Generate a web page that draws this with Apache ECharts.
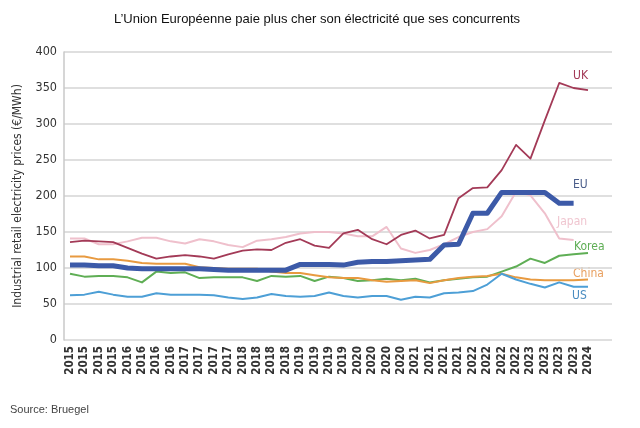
<!DOCTYPE html>
<html><head><meta charset="utf-8">
<script src="https://cdn.jsdelivr.net/npm/echarts@6/dist/echarts.min.js"></script>
<style>html,body{margin:0;padding:0;background:#fff}#c{width:640px;height:428px}</style>
</head><body><div id="c"></div>
<script>
const categories = ['2015','2015','2015','2015','2016','2016','2016','2016','2017','2017','2017','2017','2018','2018','2018','2018','2019','2019','2019','2019','2020','2020','2020','2020','2021','2021','2021','2021','2022','2022','2022','2022','2023','2023','2023','2023','2024'];
const yTicks = [0,50,100,150,200,250,300,350,400];
const UK = [136,138,137,136,128,120,113,116,118,116,113,119,124,126,125,135,140,131,128,148,153,140,133,146,152,141,146,197,211,212,236,271,252,305,357,350,347];
const EU = [104,104,103,103,100,99,99,99,99,99,98,97,97,97,97,97,105,105,105,104,108,109,109,110,111,112,132,133,176,176,205,205,205,205,190,190,null];
const Japan = [141,141,133,133,137,142,142,137,134,140,137,132,129,138,140,143,148,150,150,148,144,144,157,127,121,125,133,143,150,154,172,206,201,176,141,139,null];
const Korea = [92,88,89,89,87,80,95,93,94,86,87,87,87,82,89,88,89,82,88,86,82,83,85,83,85,80,83,85,87,88,95,102,113,107,117,119,121];
const China = [116,116,112,112,110,107,106,106,106,101,100,99,99,99,95,93,93,90,87,86,86,83,81,82,83,79,83,86,88,89,92,87,84,83,83,83,84];
const US = [62,63,67,63,60,60,65,63,63,63,62,59,57,59,64,61,60,61,66,61,59,61,61,56,60,59,65,66,68,77,92,84,78,73,80,74,74];

const chart = echarts.init(document.getElementById('c'));
const txt = '#333';
function line(name, data, color, width) {
  return {name, type:'line', xAxisIndex:1, yAxisIndex:1, data, symbol:'none', smooth:false,
    lineStyle:{color, width, join:'round'}, itemStyle:{color}, z: name==='EU'?3:2};
}
chart.setOption({
  animation:false,
  title:{text:'L’Union Européenne paie plus cher son électricité que ses concurrents', left:312, textAlign:'center', top:8,
    textStyle:{fontFamily:'Liberation Sans', fontSize:13, fontWeight:'normal', color:'#111'}},
  grid:[{left:64, right:28, top:52, bottom:88},{left:70, right:52, top:52, bottom:88}],
  xAxis:[
    {gridIndex:0, type:'category', data:categories, show:false},
    {gridIndex:1, type:'category', data:categories, boundaryGap:false,
      axisLine:{show:false}, axisTick:{show:false},
      axisLabel:{interval:0, rotate:90, margin:6, fontFamily:'DejaVu Sans Condensed', fontSize:11.5, fontWeight:'bold', color:txt}}
  ],
  yAxis:[
    {gridIndex:0, type:'value', min:0, max:400, interval:50,
      axisLine:{show:true, lineStyle:{color:'#c8c8c8', width:1.5}}, axisTick:{show:false},
      splitLine:{lineStyle:{color:'#d4d4d4', width:1.5}},
      axisLabel:{margin:7, fontFamily:'DejaVu Sans Condensed', fontSize:12.5, color:txt, formatter:v=>yTicks.includes(v)?String(v):''},
      name:'Industrial retail electricity prices (€/MWh)', nameLocation:'middle', nameGap:40, nameRotate:90,
      nameTextStyle:{fontFamily:'DejaVu Sans Condensed', fontSize:12, color:txt}},
    {gridIndex:1, type:'value', min:0, max:400, show:false}
  ],
  series:[
    line('Japan', Japan, '#efc0cc', 2),
    line('UK', UK, '#a33a57', 1.8),
    line('Korea', Korea, '#5fae55', 2),
    line('China', China, '#e89a40', 2),
    line('US', US, '#4d9fd6', 2),
    line('EU', EU, '#3c5aa8', 5)
  ],
  graphic:[
    {type:'text', x:573, y:70, style:{text:'UK', fill:'#a33a57', font:'12px "DejaVu Sans Condensed"'}},
    {type:'text', x:573, y:179, style:{text:'EU', fill:'#4a5d8a', font:'12px "DejaVu Sans Condensed"'}},
    {type:'text', x:557, y:216, style:{text:'Japan', fill:'#f0c6d0', font:'12px "DejaVu Sans Condensed"'}},
    {type:'text', x:574, y:241, style:{text:'Korea', fill:'#5fae55', font:'12px "DejaVu Sans Condensed"'}},
    {type:'text', x:573, y:268, style:{text:'China', fill:'#e8a060', font:'12px "DejaVu Sans Condensed"'}},
    {type:'text', x:572, y:290, style:{text:'US', fill:'#4a8cc0', font:'12px "DejaVu Sans Condensed"'}},
    {type:'text', x:10, y:404, style:{text:'Source: Bruegel', fill:'#444', font:'11px "Liberation Sans"'}}
  ]
});
</script></body></html>
